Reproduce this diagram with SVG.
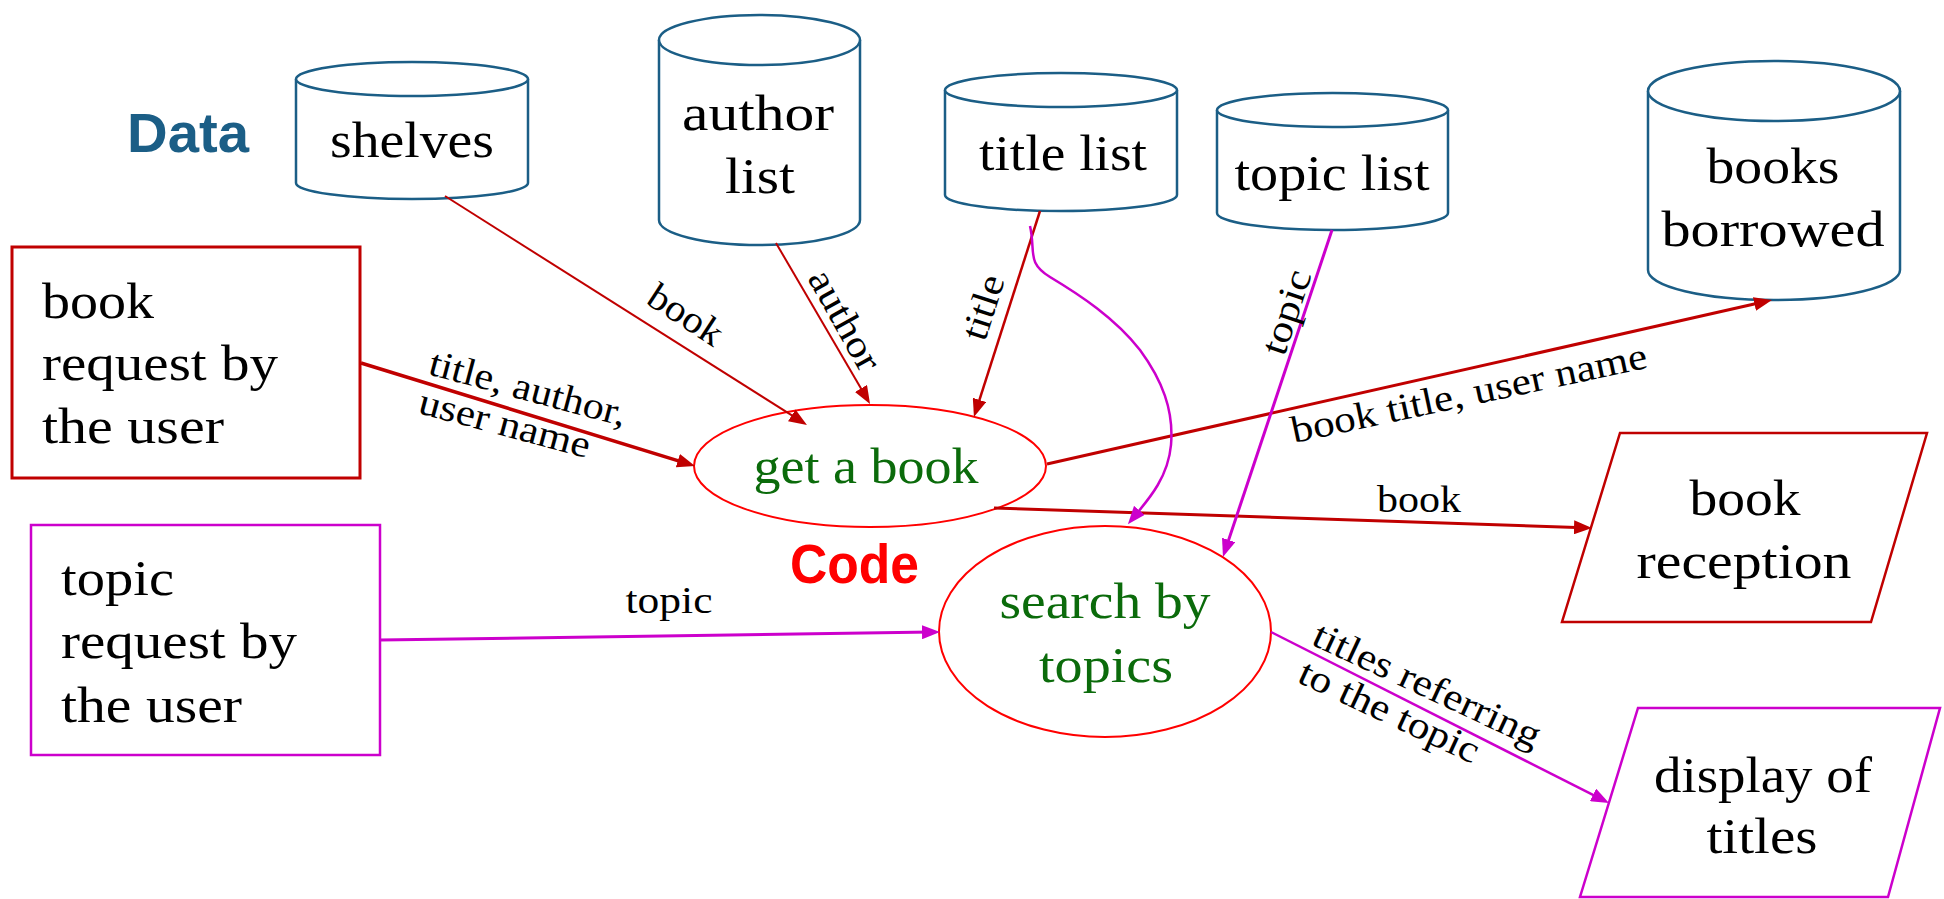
<svg xmlns="http://www.w3.org/2000/svg" width="1944" height="899" viewBox="0 0 1944 899">
  <style>
    .store { fill: #ffffff; stroke: #1b5e86; stroke-width: 2.5; }
    .txt { font-family: "Liberation Serif", "Times New Roman", serif; font-size: 50px; fill: #000000; }
    .lbl { font-family: "Liberation Serif", "Times New Roman", serif; font-size: 38px; fill: #000000; }
    .proc-txt { fill: #0b6b0b; }
    .head { font-family: "Liberation Sans", Arial, sans-serif; font-weight: bold; font-size: 55px; }
    .proc { fill: #ffffff; stroke: #ff0000; stroke-width: 2; }
    .red-line { fill: none; stroke: #c00000; marker-end: url(#arrow-red); }
    .mag-line { fill: none; stroke: #cc00cc; marker-end: url(#arrow-mag); }
    .mid { text-anchor: middle; }
  </style>
  <defs>
    <marker id="arrow-red" viewBox="0 0 18 14" refX="10" refY="7" markerWidth="18" markerHeight="14" markerUnits="userSpaceOnUse" orient="auto">
      <path d="M0,0 L18,7 L0,14 z" fill="#c00000"/>
    </marker>
    <marker id="arrow-mag" viewBox="0 0 18 14" refX="10" refY="7" markerWidth="18" markerHeight="14" markerUnits="userSpaceOnUse" orient="auto">
      <path d="M0,0 L18,7 L0,14 z" fill="#cc00cc"/>
    </marker>
  </defs>

  <rect width="1944" height="899" fill="#ffffff"/>

  <!-- section headings -->
  <text id="heading-data" class="head" x="127" y="152" textLength="122" lengthAdjust="spacingAndGlyphs" fill="#1b5e86">Data</text>
  <text id="heading-code" class="head" x="790" y="583" textLength="129" lengthAdjust="spacingAndGlyphs" fill="#ff0000">Code</text>

  <!-- data stores -->
  <g id="store-shelves">
    <path class="store" d="M296,79 L296,183 A116,16 0 0 0 528,183 L528,79"/>
    <ellipse class="store" cx="412" cy="79" rx="116" ry="17"/>
    <text class="txt mid" x="412" y="157" textLength="164" lengthAdjust="spacingAndGlyphs">shelves</text>
  </g>
  <g id="store-author-list">
    <path class="store" d="M659,40 L659,220 A100.5,25 0 0 0 860,220 L860,40"/>
    <ellipse class="store" cx="759.5" cy="40" rx="100.5" ry="25"/>
    <text class="txt mid" x="758" y="130" textLength="152" lengthAdjust="spacingAndGlyphs">author</text>
    <text class="txt mid" x="760" y="193" textLength="70" lengthAdjust="spacingAndGlyphs">list</text>
  </g>
  <g id="store-title-list">
    <path class="store" d="M945,90 L945,195 A116,16 0 0 0 1177,195 L1177,90"/>
    <ellipse class="store" cx="1061" cy="90" rx="116" ry="17"/>
    <text class="txt mid" x="1063" y="170" textLength="168" lengthAdjust="spacingAndGlyphs">title list</text>
  </g>
  <g id="store-topic-list">
    <path class="store" d="M1217,110 L1217,213 A115.5,17 0 0 0 1448,213 L1448,110"/>
    <ellipse class="store" cx="1332.5" cy="110" rx="115.5" ry="17"/>
    <text class="txt mid" x="1332" y="190" textLength="195" lengthAdjust="spacingAndGlyphs">topic list</text>
  </g>
  <g id="store-books-borrowed">
    <path class="store" d="M1648,91 L1648,270 A126,30 0 0 0 1900,270 L1900,91"/>
    <ellipse class="store" cx="1774" cy="91" rx="126" ry="30"/>
    <text class="txt mid" x="1773" y="183" textLength="133" lengthAdjust="spacingAndGlyphs">books</text>
    <text class="txt mid" x="1773" y="246" textLength="223" lengthAdjust="spacingAndGlyphs">borrowed</text>
  </g>

  <!-- external inputs -->
  <g id="input-book-request">
    <rect x="12" y="247" width="348" height="231" fill="#ffffff" stroke="#c00000" stroke-width="3"/>
    <text class="txt" x="42" y="318" textLength="112" lengthAdjust="spacingAndGlyphs">book</text>
    <text class="txt" x="42" y="380" textLength="236" lengthAdjust="spacingAndGlyphs">request by</text>
    <text class="txt" x="42" y="443" textLength="182" lengthAdjust="spacingAndGlyphs">the user</text>
  </g>
  <g id="input-topic-request">
    <rect x="31" y="525" width="349" height="230" fill="#ffffff" stroke="#cc00cc" stroke-width="2.5"/>
    <text class="txt" x="61" y="595" textLength="113" lengthAdjust="spacingAndGlyphs">topic</text>
    <text class="txt" x="61" y="658" textLength="236" lengthAdjust="spacingAndGlyphs">request by</text>
    <text class="txt" x="61" y="722" textLength="181" lengthAdjust="spacingAndGlyphs">the user</text>
  </g>

  <!-- processes -->
  <g id="proc-get-book">
    <ellipse class="proc" cx="870" cy="466" rx="176" ry="61"/>
    <text class="txt mid proc-txt" x="866" y="483" textLength="225" lengthAdjust="spacingAndGlyphs">get a book</text>
  </g>
  <g id="proc-search-topics">
    <ellipse class="proc" cx="1105" cy="631.5" rx="166" ry="105.5"/>
    <text class="txt mid proc-txt" x="1105" y="618" textLength="211" lengthAdjust="spacingAndGlyphs">search by</text>
    <text class="txt mid proc-txt" x="1106" y="682" textLength="134" lengthAdjust="spacingAndGlyphs">topics</text>
  </g>

  <!-- outputs -->
  <g id="output-book-reception">
    <polygon points="1620,433 1927,433 1871,622 1562,622" fill="#ffffff" stroke="#c00000" stroke-width="2.5"/>
    <text class="txt mid" x="1745" y="515" textLength="111" lengthAdjust="spacingAndGlyphs">book</text>
    <text class="txt mid" x="1744" y="578" textLength="215" lengthAdjust="spacingAndGlyphs">reception</text>
  </g>
  <g id="output-display-titles">
    <polygon points="1638,708 1940,708 1888,897 1580,897" fill="#ffffff" stroke="#cc00cc" stroke-width="2.5"/>
    <text class="txt mid" x="1763" y="792" textLength="218" lengthAdjust="spacingAndGlyphs">display of</text>
    <text class="txt mid" x="1762" y="853" textLength="111" lengthAdjust="spacingAndGlyphs">titles</text>
  </g>

  <!-- connectors, drawn over the shapes so arrowheads stay visible -->
  <g id="connectors">
    <path class="red-line" stroke-width="2" d="M445,196 L800.2,420.7"/>
    <path class="red-line" stroke-width="2" d="M776,243 L866,397.1"/>
    <path class="red-line" stroke-width="2.5" d="M1040,211 L976.4,409.4"/>
    <path class="red-line" stroke-width="3.5" d="M361,363 L687.4,463.6"/>
    <path class="red-line" stroke-width="3" d="M1047,464 L1764.2,301.8"/>
    <path class="red-line" stroke-width="3" d="M994,508 L1584,527.7"/>
    <path class="mag-line" stroke-width="2.5" d="M1030,226 C1036,252 1026,262 1050,277 C1080,295 1115,318 1140,350 C1162,380 1174,410 1171,445 C1168,478 1148,500 1133,518"/>
    <path class="mag-line" stroke-width="3" d="M1332,230 L1225.5,549.4"/>
    <path class="mag-line" stroke-width="3" d="M380,640 L932,632.1"/>
    <path class="mag-line" stroke-width="2.5" d="M1271,632 L1601.9,799.4"/>

    <!-- flow labels -->
    <text class="lbl mid" transform="translate(679,325) rotate(33)" textLength="82" lengthAdjust="spacingAndGlyphs">book</text>
    <text class="lbl mid" transform="translate(834,326) rotate(60.7)" textLength="110" lengthAdjust="spacingAndGlyphs">author</text>
    <text class="lbl mid" transform="translate(995,311) rotate(-72)" textLength="66" lengthAdjust="spacingAndGlyphs">title</text>
    <text class="lbl mid" transform="translate(1298,316) rotate(-71.6)" textLength="87" lengthAdjust="spacingAndGlyphs">topic</text>
    <g transform="translate(427,374) rotate(15)">
      <text class="lbl" x="0" y="0" textLength="203" lengthAdjust="spacingAndGlyphs">title, author,</text>
      <text class="lbl" x="0" y="40" textLength="176" lengthAdjust="spacingAndGlyphs">user name</text>
    </g>
    <text class="lbl" transform="translate(1294,443) rotate(-12)" textLength="363" lengthAdjust="spacingAndGlyphs">book title, user name</text>
    <text class="lbl mid" x="1419" y="512" textLength="84" lengthAdjust="spacingAndGlyphs">book</text>
    <text class="lbl mid" x="669" y="613" textLength="87" lengthAdjust="spacingAndGlyphs">topic</text>
    <g transform="translate(1310,644) rotate(25)">
      <text class="lbl" x="0" y="0" textLength="247" lengthAdjust="spacingAndGlyphs">titles referring</text>
      <text class="lbl" x="3" y="40" textLength="195" lengthAdjust="spacingAndGlyphs">to the topic</text>
    </g>
  </g>
</svg>
